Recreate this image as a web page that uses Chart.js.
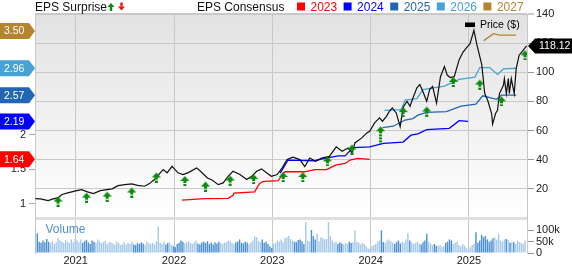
<!DOCTYPE html>
<html>
<head>
<meta charset="utf-8">
<script src="https://cdn.jsdelivr.net/npm/chart.js@4/dist/chart.umd.min.js"></script>
<style>
  html, body { margin: 0; padding: 0; background: #fff; }
</style>
</head>
<body>
<canvas id="chart" width="572" height="264"></canvas>
<script>
// ---- data ----
const priceDates = [2020.59, 2020.64, 2020.72, 2020.77, 2020.82, 2020.86, 2020.92, 2021.01, 2021.06, 2021.12,
  2021.18, 2021.25, 2021.32, 2021.37, 2021.43, 2021.50, 2021.57, 2021.63, 2021.70, 2021.75,
  2021.80, 2021.86, 2021.89, 2021.93, 2021.98, 2022.04, 2022.09, 2022.14, 2022.23, 2022.28,
  2022.34, 2022.39, 2022.45, 2022.50, 2022.55, 2022.60, 2022.67, 2022.74, 2022.79, 2022.84,
  2022.89, 2022.94, 2022.99, 2023.05, 2023.10, 2023.15, 2023.21, 2023.28, 2023.33, 2023.38,
  2023.44, 2023.50, 2023.58, 2023.65, 2023.71, 2023.77, 2023.81, 2023.84, 2023.91, 2023.96,
  2023.99, 2024.04, 2024.09, 2024.12, 2024.16, 2024.19, 2024.22, 2024.26, 2024.30, 2024.33,
  2024.37, 2024.40, 2024.43, 2024.47, 2024.50, 2024.53, 2024.57, 2024.60, 2024.63, 2024.67,
  2024.71, 2024.75, 2024.78, 2024.81, 2024.85, 2024.90, 2024.94, 2024.98, 2025.01, 2025.05,
  2025.08, 2025.13, 2025.16, 2025.19, 2025.23, 2025.24, 2025.27, 2025.29, 2025.31, 2025.35,
  2025.36, 2025.38, 2025.40, 2025.41, 2025.43, 2025.46, 2025.48, 2025.51, 2025.55, 2025.586];
const prices = [13.3, 13.1, 11.9, 13.1, 13.8, 16.1, 17.2, 18.8, 19.5, 17.9,
  16.7, 18.8, 19.5, 20.0, 22.2, 22.9, 23.4, 22.4, 21.8, 23.6,
  26.4, 31.0, 33.2, 31.0, 35.5, 31.0, 29.8, 31.0, 34.4, 31.4,
  27.5, 25.9, 22.9, 24.1, 28.6, 32.1, 29.8, 26.4, 28.6, 32.1,
  33.7, 31.0, 28.6, 29.8, 34.4, 40.1, 41.7, 40.1, 35.3, 41.2,
  38.9, 41.2, 42.3, 48.8, 45.8, 48.1, 44.7, 51.5, 55.0, 58.4,
  59.5, 65.3, 68.7, 66.4, 69.8, 73.2, 75.6, 72.1, 62.7, 75.8,
  80.1, 76.7, 82.4, 89.3, 91.6, 87.0, 80.1, 88.1, 90.2, 78.9,
  97.0, 103.9, 97.9, 96.4, 97.0, 108.7, 113.9, 117.3, 119.4, 128.8,
  119.0, 105.3, 85.4, 80.8, 71.7, 64.4, 71.7, 73.9, 85.4, 91.1,
  95.7, 85.4, 95.7, 85.4, 95.7, 85.4, 102.5, 111.7, 115.1, 118.12];

const consensusYears = [2023, 2024, 2025, 2026, 2027];
const c2023Dates = [2022.08, 2022.31, 2022.55, 2022.60, 2022.61, 2022.82, 2022.87, 2022.91, 2023.06, 2023.11,
  2023.13, 2023.33, 2023.43, 2023.55, 2023.65, 2023.74, 2023.79, 2023.87, 2023.99];
const c2023 = [1.05, 1.07, 1.075, 1.12, 1.15, 1.17, 1.29, 1.32, 1.33, 1.44,
  1.46, 1.46, 1.49, 1.49, 1.56, 1.58, 1.63, 1.655, 1.64];
const c2024Dates = [2023.08, 2023.16, 2023.43, 2023.53, 2023.67, 2023.74, 2023.82, 2023.99, 2024.13, 2024.33,
  2024.41, 2024.48, 2024.57, 2024.80, 2024.90, 2024.99];
const c2024 = [1.44, 1.63, 1.62, 1.655, 1.69, 1.69, 1.81, 1.82, 1.87, 1.89,
  1.99, 2.01, 2.07, 2.09, 2.20, 2.19];
const c2025Dates = [2024.12, 2024.23, 2024.35, 2024.43, 2024.48, 2024.57, 2024.77, 2024.92, 2025.07, 2025.14,
  2025.28, 2025.33, 2025.48];
const c2025 = [2.10, 2.12, 2.21, 2.23, 2.28, 2.32, 2.33, 2.41, 2.44, 2.56, 2.51, 2.57, 2.57];
const c2026Dates = [2024.14, 2024.31, 2024.35, 2024.47, 2024.53, 2024.75, 2024.90, 2025.06, 2025.11, 2025.21,
  2025.29, 2025.35, 2025.48];
const c2026 = [2.35, 2.36, 2.50, 2.52, 2.65, 2.70, 2.80, 2.83, 2.97, 2.97, 2.87, 2.95, 2.96];
const c2027Dates = [2025.15, 2025.25, 2025.31, 2025.48];
const c2027 = [3.36, 3.46, 3.44, 3.44];

const latestConsensus = [3.50, 2.96, 2.57, 2.19, 1.64];   // 2027 .. 2023
const lastPrice = 118.12;

// EPS surprise arrows: report date and the price level the arrow points at
const surpriseDates = [2020.82, 2021.11, 2021.32, 2021.57, 2021.82, 2022.11, 2022.32, 2022.57, 2022.81, 2023.11,
  2023.31, 2023.56, 2023.81, 2024.10, 2024.33, 2024.57, 2024.84, 2025.11, 2025.33, 2025.57];
const surpriseLevels = [14.7, 17.4, 18.1, 20.9, 31.2, 28.8, 25.0, 29.1, 30.1, 31.5,
  31.5, 42.3, 50.4, 62.9, 76.1, 76.5, 96.8, 95.0, 83.5, 115.1];

// weekly volume, thousands of shares, first week = volStart
const volStart = 2020.59;
const volumes = [106, 88, 50, 45, 55, 48, 62, 50, 45, 52, 40, 48, 66, 55, 50, 45, 58, 50, 44, 60, 48,
  62, 55, 48, 60, 45, 52, 58, 47, 40, 55, 50, 45, 60, 52, 44, 48, 55, 40, 50, 46,
  42, 38, 50, 45, 35, 40, 48, 36, 44, 40, 52, 38, 35, 45, 40, 48, 42, 36, 50, 44,
  40, 45, 38, 52, 117, 45, 40, 50, 38, 44, 48, 36, 30, 26, 40, 45, 55, 50, 42, 48,
  52, 45, 40, 48, 55, 42, 38, 46, 50, 44, 52, 40, 45, 38, 48, 42, 50, 44, 40, 46,
  48, 55, 52, 44, 40, 48, 50, 60, 45, 42, 50, 46, 40, 48, 55, 73, 70, 52, 48, 60, 45, 50, 40, 30, 22,
  40, 45, 55, 50, 60, 48, 65, 70, 75, 62, 55, 50, 48, 58, 60, 52, 40, 137, 55, 50, 102, 75, 60, 85, 52,
  70, 65, 60, 62, 137, 75, 55, 45, 50, 40, 48, 42, 38, 45, 40, 50, 44, 48, 100, 50, 45, 38, 44, 40, 30, 20,
  18, 30, 35, 40, 50, 55, 100, 48, 45, 55, 60, 52, 45, 40, 48, 55, 42, 50, 45, 60, 88, 55, 48, 40,
  45, 50, 42, 38, 48, 55, 85, 50, 42, 35, 40, 32, 30, 35, 28, 30, 45, 50, 60, 55, 40, 45, 50, 35, 30, 40, 32, 22,
  15, 25, 35, 40, 92, 45, 55, 80, 70, 75, 60, 50, 55, 65, 70, 60, 85, 55, 50, 60, 62, 58, 45, 50, 48, 40, 55, 48, 45, 40, 55];

// ---- styling ----
const FONT = '"Liberation Sans", Arial, Helvetica, sans-serif';
const consensusColors = ['#ff0000', '#0000ff', '#2266b3', '#45a3d5', '#b5842f'];
const tagColors = ['#b5842f', '#45a3d5', '#2266b3', '#0000ff', '#ff0000'];
const GREEN = '#0b8a0b';
const GRID = '#c8c8c8';

Chart.defaults.font.family = FONT;
Chart.defaults.font.size = 11;
Chart.defaults.color = '#222';

const xy = (xs, ys) => xs.map((x, i) => ({ x: x, y: ys[i] }));

function priceAt(t) {
  if (t <= priceDates[0]) return prices[0];
  for (let i = 1; i < priceDates.length; i++) {
    if (t <= priceDates[i]) {
      const f = (t - priceDates[i - 1]) / (priceDates[i] - priceDates[i - 1]);
      return prices[i - 1] + f * (prices[i] - prices[i - 1]);
    }
  }
  return prices[prices.length - 1];
}

const volData = volumes.map((v, i) => ({ x: volStart + i / 52, y: v }));
const volColors = volData.map(d => priceAt(d.x) >= priceAt(d.x - 1 / 52) ? '#a6c9ea' : '#4b90d2');

function makeArrow(stem) {
  const h = 5 + stem;
  const c = document.createElement('canvas');
  c.width = 9; c.height = h * 2;
  const g = c.getContext('2d');
  g.fillStyle = GREEN;
  g.beginPath(); g.moveTo(4.5, h); g.lineTo(9, h + 5); g.lineTo(0, h + 5); g.closePath(); g.fill();
  for (let y = h + 5; y < 2 * h; y += 3) g.fillRect(3, y, 3, 2);
  return c;
}
const arrowShort = makeArrow(5);
const arrowLong = makeArrow(13);

function legendArrow(ctx, x, top, color, up) {
  ctx.fillStyle = color;
  ctx.beginPath();
  if (up) {
    ctx.moveTo(x + 3.5, top); ctx.lineTo(x + 7, top + 4); ctx.lineTo(x, top + 4);
    ctx.closePath(); ctx.fill();
    ctx.fillRect(x + 2.3, top + 4, 2.4, 4);
  } else {
    ctx.fillRect(x + 2.3, top, 2.4, 4);
    ctx.moveTo(x, top + 4); ctx.lineTo(x + 7, top + 4); ctx.lineTo(x + 3.5, top + 8);
    ctx.closePath(); ctx.fill();
  }
}

const decor = {
  id: 'decor',
  beforeDraw(chart) {
    const { ctx, chartArea: a } = chart;
    const p = chart.scales.price;
    ctx.save();
    ctx.fillStyle = '#fff';
    ctx.fillRect(0, 0, chart.width, chart.height);
    const g = ctx.createLinearGradient(0, a.top, 0, p.bottom);
    g.addColorStop(0, '#e2e2e2');
    g.addColorStop(1, '#ffffff');
    ctx.fillStyle = g;
    ctx.fillRect(a.left, a.top, a.right - a.left, p.bottom - a.top);
    ctx.restore();
  },
  afterDraw(chart) {
    const { ctx, chartArea: a, scales } = chart;
    ctx.save();

    // header legend
    ctx.font = '12px ' + FONT;
    ctx.textBaseline = 'alphabetic';
    ctx.fillStyle = '#111';
    ctx.fillText('EPS Surprise', a.left, 11);
    const w = ctx.measureText('EPS Surprise').width;
    legendArrow(ctx, a.left + w + 0.5, 3, GREEN, true);
    legendArrow(ctx, a.left + w + 11, 2.5, '#ee1111', false);
    ctx.fillStyle = '#111';
    ctx.fillText('EPS Consensus', 197, 11);
    let lx = 297;
    consensusYears.forEach((yr, i) => {
      ctx.fillStyle = consensusColors[i];
      ctx.fillRect(lx, 2.5, 8, 8);
      ctx.fillText(String(yr), lx + 13.5, 11);
      lx += 46.6;
    });

    // price legend inside plot
    ctx.fillStyle = '#000';
    ctx.fillRect(465, 22.5, 10, 4.5);
    ctx.font = '10.5px ' + FONT;
    ctx.textBaseline = 'middle';
    ctx.fillText('Price ($)', 480, 25.5);

    // volume caption
    ctx.font = '12px ' + FONT;
    ctx.fillStyle = '#4b8fd1';
    ctx.fillText('Volume', 45.5, 229.5);

    // consensus tags on the left
    ctx.font = '10.5px ' + FONT;
    latestConsensus.forEach((v, i) => {
      const y = scales.eps.getPixelForValue(v);
      ctx.fillStyle = tagColors[i];
      ctx.beginPath();
      ctx.moveTo(0, y - 8); ctx.lineTo(29, y - 8); ctx.lineTo(35, y);
      ctx.lineTo(29, y + 8); ctx.lineTo(0, y + 8); ctx.closePath();
      ctx.fill();
      ctx.fillStyle = '#fff';
      ctx.fillText(v.toFixed(2), 4, y + 0.5);
    });

    // last price tag on the right
    const py = scales.price.getPixelForValue(lastPrice);
    ctx.fillStyle = '#000';
    ctx.beginPath();
    ctx.moveTo(a.right + 1, py); ctx.lineTo(a.right + 8, py - 7.5); ctx.lineTo(chart.width, py - 7.5);
    ctx.lineTo(chart.width, py + 7.5); ctx.lineTo(a.right + 8, py + 7.5); ctx.closePath();
    ctx.fill();
    ctx.fillStyle = '#fff';
    ctx.fillText(lastPrice.toFixed(2), a.right + 12, py + 0.5);

    ctx.restore();
  }
};

const consensusSets = [[c2023Dates, c2023], [c2024Dates, c2024], [c2025Dates, c2025], [c2026Dates, c2026], [c2027Dates, c2027]];

new Chart(document.getElementById('chart'), {
  type: 'line',
  data: {
    datasets: [
      {
        type: 'scatter',
        data: xy(surpriseDates, surpriseLevels),
        yAxisID: 'price',
        pointStyle: c => c.dataIndex === 13 ? arrowLong : arrowShort,
        pointRadius: 4,
        order: 0
      },
      {
        data: xy(priceDates, prices),
        yAxisID: 'price',
        borderColor: '#111',
        borderWidth: 1.2,
        pointRadius: 0,
        tension: 0,
        order: 1
      },
      ...consensusSets.map((s, i) => ({
        data: xy(s[0], s[1]),
        yAxisID: 'eps',
        borderColor: consensusColors[i],
        borderWidth: 1.3,
        pointRadius: 0,
        tension: 0,
        order: 2 + i
      })),
      {
        type: 'bar',
        data: volData,
        yAxisID: 'vol',
        backgroundColor: volColors,
        barPercentage: 0.75,
        categoryPercentage: 1,
        order: 10
      }
    ]
  },
  options: {
    responsive: false,
    animation: false,
    events: [],
    layout: { padding: { top: 14, left: 0, right: 0, bottom: 0 } },
    plugins: { legend: { display: false }, tooltip: { enabled: false } },
    scales: {
      x: {
        type: 'linear',
        min: 2020.586,
        max: 2025.59,
        offset: false,
        afterFit: s => { s.height = 11; },
        border: { display: false },
        grid: { color: GRID, drawTicks: false, offset: false },
        ticks: {
          stepSize: 1, padding: 1, autoSkip: false, maxRotation: 0, includeBounds: false,
          callback: v => Number.isInteger(v) ? String(v) : ''
        }
      },
      eps: {
        position: 'left',
        min: 0.283,
        max: 3.746,
        afterFit: s => { s.width = 35; },
        border: { display: true, color: GRID },
        grid: {
          drawOnChartArea: false, tickLength: 6,
          tickColor: c => (c.tick && c.tick.value >= 1 && c.tick.value <= 2) ? '#aaa' : 'rgba(0,0,0,0)'
        },
        ticks: {
          stepSize: 0.5, includeBounds: false, padding: 3, autoSkip: false,
          callback: v => (v >= 1 && v <= 2) ? String(v) : ''
        }
      },
      price: {
        position: 'right',
        stack: 'right',
        stackWeight: 204,
        min: 0,
        max: 140,
        afterFit: s => { s.width = 45; },
        border: { display: true, color: GRID },
        grid: {
          color: c => c.tick && c.tick.value === 0 ? '#dedede' : GRID,
          lineWidth: c => c.tick && c.tick.value === 0 ? 3 : (c.tick && c.tick.value === 140 ? 2 : 1),
          tickLength: 7,
          tickWidth: 1,
          tickColor: c => c.tick && c.tick.value === 0 ? 'rgba(0,0,0,0)' : '#999'
        },
        ticks: {
          stepSize: 20, padding: 2, autoSkip: false,
          callback: v => v > 0 ? String(v) : ''
        }
      },
      vol: {
        position: 'right',
        stack: 'right',
        stackWeight: 35,
        min: 0,
        max: 155,
        afterFit: s => { s.width = 45; },
        border: { display: true, color: GRID },
        grid: {
          drawOnChartArea: false, tickLength: 7,
          tickColor: c => c.tick && c.tick.value <= 100 ? '#999' : 'rgba(0,0,0,0)'
        },
        ticks: {
          stepSize: 50, padding: 2, autoSkip: false,
          callback: v => v === 0 ? '0' : (v <= 100 ? v + 'k' : '')
        }
      }
    }
  },
  plugins: [decor]
});
</script>
</body>
</html>
